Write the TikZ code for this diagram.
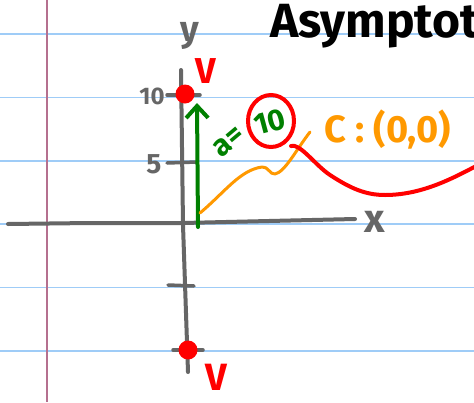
\documentclass[tikz,border=0pt]{standalone}
\usepackage{fontspec}
\setmainfont{Fira Sans}
\usetikzlibrary{arrows.meta,positioning,calc}
\definecolor{Rule}{HTML}{9FCCF7}
\definecolor{Margin}{HTML}{B5708F}
\definecolor{Axis}{HTML}{666666}
\definecolor{Pen}{HTML}{008000}
\definecolor{Amber}{HTML}{FF9900}
\definecolor{Mark}{HTML}{FF0000}
\tikzset{
 axis/.style={draw=Axis,line width=4pt,line cap=round,line join=round},
 tickmark/.style={axis,line width=3.5pt},
 ink/.style={inner sep=0pt,font=\fontsize{#1}{#1}\selectfont\bfseries},
 vertex/.style={fill=Mark,circle,minimum size=19pt,inner sep=0pt},
 pen/.style={draw=Pen,line width=4pt,line cap=round,-{Straight Barb[length=12pt,width=22pt,line width=4pt]}},
 curve/.style={line width=#1,line cap=round,line join=round}
}
\begin{document}
\begin{tikzpicture}[x=1pt,y=-1pt]
\useasboundingbox (0,0) rectangle (474,402);
\fill[white] (0,0) rectangle (474,402);
\foreach \y in {34,97.5,161,224,287.5,351} {
 \draw[Rule,line width=1.6pt] (0,\y)--(474,\y);
}
\draw[Margin,line width=1.6pt] (47,0)--(47,402);
\coordinate (xl) at (8,224);
\coordinate (xr) at (355,219);
\coordinate (yt) at (181,70);
\coordinate (yb) at (188,372);
\draw[axis] (xl) -- (90,223) -- (183,223) -- (xr);
\draw[axis] (yt) -- (183,225) -- (yb);
\draw[tickmark] (167,95)--(200,95);
\draw[tickmark] (167,163)--(197,162);
\draw[tickmark] (168,285)--(194,286);
\draw[tickmark] (173,350)--(203,350);
\node[ink=36,text=Axis] (ylab) at (190,36) {y};
\node[ink=40,text=Axis] (xlab) at (375,222) {x};
\node[ink=24,text=Axis] (ten) at (152,96) {10};
\node[ink=28,text=Axis] (five) at (154,164) {5};
\node[vertex] (top) at (185,94) {};
\node[vertex] (bot) at (188,350) {};
\node[ink=36,text=Mark] (vtop) at (206,71) {V};
\node[ink=38,text=Mark] (vbot) at (216,377) {V};
\coordinate (base) at (198,227);
\coordinate (peak) at (197,103);
\draw[pen] (base) -- (peak);
\node[ink=30,text=Pen,rotate=40] (aeq) at (229,142) {a=};
\node[ink=30,text=Pen,rotate=15] (aval) at (270,122) {10};
\draw[Mark,line width=4pt] (271,121) ellipse (23 and 26);
\draw[Amber,curve=3pt] (200,213) .. controls (225,192) and (240,170) .. (262,167)
 .. controls (268,166) and (270,175) .. (275,174)
 .. controls (285,172) and (296,150) .. (310,132);
\draw[Mark,curve=4pt] (291,146) .. controls (300,143) and (315,165) .. (330,175)
 .. controls (350,188) and (365,195) .. (385,195)
 .. controls (420,195) and (450,180) .. (478,165);
\node[ink=38,text=Amber] (cpt) at (388,130) {C : (0,0)};
\node[ink=48,anchor=base west] (title) at (270,37) {Asymptotes};
\end{tikzpicture}
\end{document}
